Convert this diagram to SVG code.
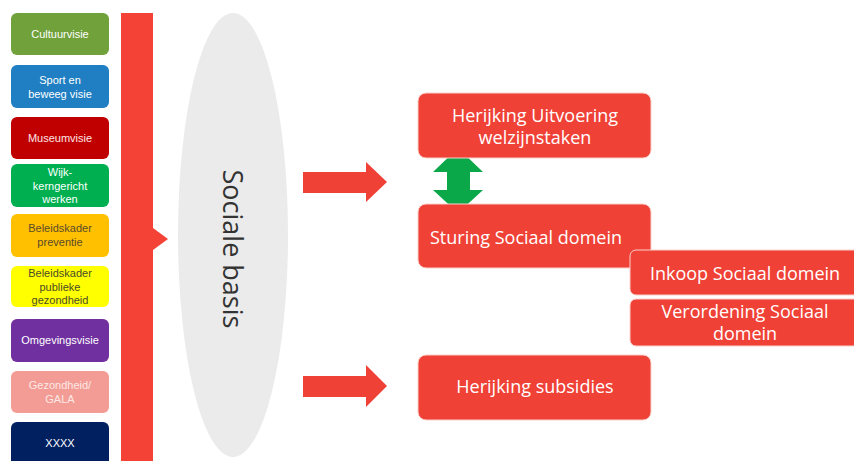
<svg xmlns="http://www.w3.org/2000/svg" width="854" height="461" viewBox="0 0 854 461">
<style>
.lb{stroke:none}
.lt{font-family:"Liberation Sans",Arial,sans-serif;font-size:11px;text-anchor:middle}
.rb{fill:#ef4136;stroke:#fbd0cc;stroke-width:1}
.rt{font-family:"Open Sans","Liberation Sans",sans-serif;font-size:18px;fill:#ffffff;text-anchor:middle}
.arr{fill:#ef4136}
</style>
<rect width="854" height="461" fill="#ffffff"/>
<g id="cultuurvisie"><rect class="lb" x="11" y="13" width="98" height="42" rx="6" fill="#70a13b"/><text class="lt" x="60" y="38" fill="#ffffff">Cultuurvisie</text></g>
<g id="sport"><rect class="lb" x="11" y="65" width="98" height="43" rx="6" fill="#1f7fc2"/><text class="lt" x="60" y="84" fill="#ffffff">Sport en</text><text class="lt" x="60" y="98" fill="#ffffff">beweeg visie</text></g>
<g id="museumvisie"><rect class="lb" x="11" y="117" width="98" height="42" rx="6" fill="#c00000"/><text class="lt" x="60" y="142" fill="#fde6e6">Museumvisie</text></g>
<g id="wijk"><rect class="lb" x="11" y="164" width="98" height="43" rx="6" fill="#00b050"/><text class="lt" x="60" y="176" fill="#ffffff">Wijk-</text><text class="lt" x="60" y="189.5" fill="#ffffff">kerngericht</text><text class="lt" x="60" y="203" fill="#ffffff">werken</text></g>
<g id="preventie"><rect class="lb" x="11" y="214" width="98" height="43" rx="6" fill="#ffc000"/><text class="lt" x="60" y="232" fill="#5a4a2a">Beleidskader</text><text class="lt" x="60" y="246" fill="#5a4a2a">preventie</text></g>
<g id="publieke"><rect class="lb" x="11" y="266" width="98" height="41" rx="6" fill="#ffff00"/><text class="lt" x="60" y="277" fill="#4a4a2a">Beleidskader</text><text class="lt" x="60" y="290.5" fill="#4a4a2a">publieke</text><text class="lt" x="60" y="304" fill="#4a4a2a">gezondheid</text></g>
<g id="omgevingsvisie"><rect class="lb" x="11" y="319" width="98" height="43" rx="6" fill="#7030a0"/><text class="lt" x="60" y="344" fill="#ffffff">Omgevingsvisie</text></g>
<g id="gezondheid"><rect class="lb" x="11" y="371" width="98" height="42" rx="6" fill="#f29c95"/><text class="lt" x="60" y="389" fill="#fde8e6">Gezondheid/</text><text class="lt" x="60" y="403" fill="#fde8e6">GALA</text></g>
<g id="xxxx"><rect class="lb" x="11" y="422" width="98" height="45" rx="6" fill="#002060"/><text class="lt" x="60" y="447" fill="#ffffff">XXXX</text></g>
<g id="bar"><rect x="121" y="13" width="32" height="460" fill="#f44336"/><polygon points="153,228 168,239 153,250" fill="#f44336"/></g>
<g id="sociale-basis"><ellipse cx="233" cy="235" rx="55" ry="222" fill="#ebebeb"/><text transform="translate(223,249) rotate(90)" font-family="Open Sans,Liberation Sans,sans-serif" font-size="27" fill="#333333" text-anchor="middle">Sociale basis</text></g>
<g id="connectors">
<polygon class="arr" points="303,172 366,172 366,162 387,182 366,202 366,193 303,193"/>
<polygon class="arr" points="303,376 366,376 366,365 387,386 366,407 366,397 303,397"/>
<polygon fill="#0ba84a" points="458,148 483,172 470,172 470,190 483,190 458,213 433,190 447,190 447,172 433,172"/>
</g>
<g id="herijking-uitvoering"><rect class="rb" x="418" y="93" width="233" height="65" rx="8"/><text class="rt" x="535" y="122">Herijking Uitvoering</text><text class="rt" x="535" y="144">welzijnstaken</text></g>
<g id="sturing"><rect class="rb" x="418" y="204" width="233" height="64" rx="8"/><text class="rt" x="526" y="244">Sturing Sociaal domein</text></g>
<g id="inkoop"><rect class="rb" x="630" y="250" width="240" height="45" rx="6"/><text class="rt" x="745" y="280">Inkoop Sociaal domein</text></g>
<g id="verordening"><rect class="rb" x="630" y="299" width="240" height="47" rx="6"/><text class="rt" x="745" y="318">Verordening Sociaal</text><text class="rt" x="745" y="340">domein</text></g>
<g id="herijking-subsidies"><rect class="rb" x="418" y="355" width="233" height="65" rx="8"/><text class="rt" x="535" y="393">Herijking subsidies</text></g>
</svg>
